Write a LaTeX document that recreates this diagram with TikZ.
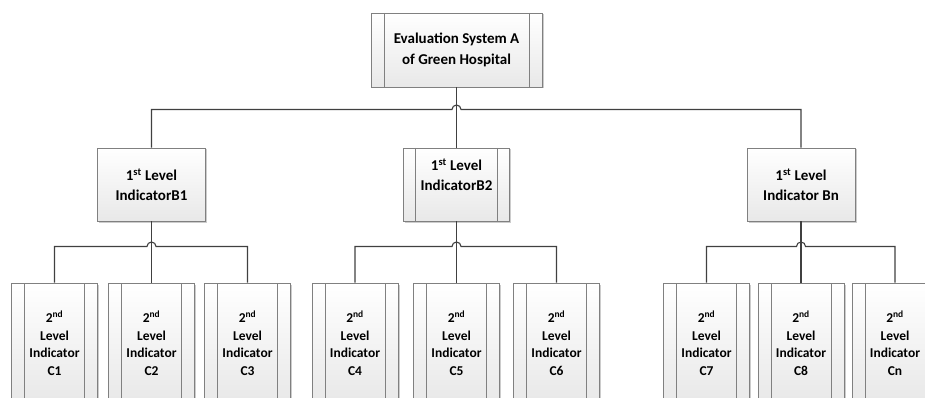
\documentclass[tikz,border=0pt]{standalone}
\usepackage{fontspec}
\setmainfont{Carlito}
\usepackage{tikz}
\usetikzlibrary{positioning,shadows}
\definecolor{hsborder}{RGB}{128,128,128}
\definecolor{hsline}{RGB}{64,64,64}
\definecolor{hsfill}{RGB}{232,232,232}
\tikzset{barwidth/.store in=\barw, barwidth=13pt}
\tikzstyle{box} = [rectangle, inner sep=0pt, align=center, draw=hsborder, line width=0.8pt, top color=white, bottom color=hsfill, drop shadow={shadow xshift=1.5pt, shadow yshift=-1.5pt, opacity=0.2, fill=black}]
\tikzstyle{bars} = [path picture={
  \draw[hsborder, line width=0.8pt] ([xshift=\barw]path picture bounding box.north west) -- ([xshift=\barw]path picture bounding box.south west);
  \draw[hsborder, line width=0.8pt] ([xshift=-\barw]path picture bounding box.north east) -- ([xshift=-\barw]path picture bounding box.south east);}]
\tikzstyle{rootbox} = [box, bars, minimum width=171pt, minimum height=74pt, font=\fontsize{15}{21}\selectfont\bfseries]
\tikzstyle{levelone} = [box, minimum width=108pt, minimum height=73pt, font=\fontsize{15}{20}\selectfont\bfseries]
\tikzstyle{leveltwo} = [box, bars, minimum width=86pt, minimum height=120pt, font=\fontsize{13.5}{17.5}\selectfont\bfseries]
\tikzstyle{link} = [draw=hsline, line width=1.1pt]

\begin{document}
\begin{tikzpicture}[x=1pt, y=-1pt]
\useasboundingbox (0,0) rectangle (925,398);
\clip (0,0) rectangle (925,398);

% Top node
\node (sysA) [rootbox] at (456.5,50) {Evaluation System A\\of Green Hospital};

% 1st level nodes
\node (b1) [levelone] at (151.5,184.5) {1\textsuperscript{st} Level\\IndicatorB1};
\node (b2) [levelone, bars, minimum width=106pt, barwidth=12pt, text depth=20pt] at (456.5,184.5) {1\textsuperscript{st} Level\\IndicatorB2};
\node (bn) [levelone] at (801,184.5) {1\textsuperscript{st} Level\\Indicator Bn};

% 2nd level nodes
\node (c1) [leveltwo] at (54.5,343) {2\textsuperscript{nd}\\Level\\Indicator\\C1};
\node (c2) [leveltwo] at (151.5,343) {2\textsuperscript{nd}\\Level\\Indicator\\C2};
\node (c3) [leveltwo] at (247.5,343) {2\textsuperscript{nd}\\Level\\Indicator\\C3};
\node (c4) [leveltwo] at (355,343) {2\textsuperscript{nd}\\Level\\Indicator\\C4};
\node (c5) [leveltwo] at (456.5,343) {2\textsuperscript{nd}\\Level\\Indicator\\C5};
\node (c6) [leveltwo] at (556.5,343) {2\textsuperscript{nd}\\Level\\Indicator\\C6};
\node (c7) [leveltwo] at (706.5,343) {2\textsuperscript{nd}\\Level\\Indicator\\C7};
\node (c8) [leveltwo] at (801,343) {2\textsuperscript{nd}\\Level\\Indicator\\C8};
\node (cn) [leveltwo] at (895,343) {2\textsuperscript{nd}\\Level\\Indicator\\Cn};

% Bus heights
\coordinate (busA) at (0,109.5);
\coordinate (busB) at (0,246.5);

% Connectors with line hops
\draw[link] (sysA.south) -- (b2.north);
\draw[link] (b1.north) |- ([xshift=-4.5pt]sysA.south |- busA) arc[start angle=180, end angle=0, radius=4.5pt] -| (bn.north);

\draw[link] (b1.south) -- (c2.north);
\draw[link] (c1.north) |- ([xshift=-4.5pt]b1.south |- busB) arc[start angle=180, end angle=0, radius=4.5pt] -| (c3.north);

\draw[link] (b2.south) -- (c5.north);
\draw[link] (c4.north) |- ([xshift=-4.5pt]b2.south |- busB) arc[start angle=180, end angle=0, radius=4.5pt] -| (c6.north);

\draw[link] (bn.south) -- (c8.north);
\draw[link] (c7.north) |- ([xshift=-4.5pt]bn.south |- busB) arc[start angle=180, end angle=0, radius=4.5pt] -| (cn.north);
\end{tikzpicture}
\end{document}
